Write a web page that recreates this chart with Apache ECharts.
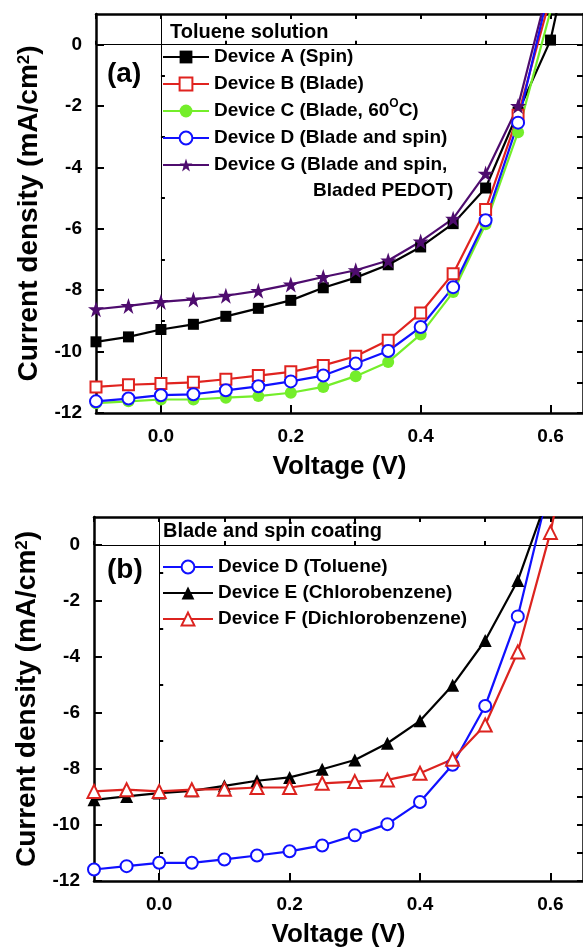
<!DOCTYPE html>
<html>
<head>
<meta charset="utf-8">
<script src="https://cdn.jsdelivr.net/npm/echarts@6/dist/echarts.min.js"></script>
<style>html,body{margin:0;padding:0;background:#fff}#main{width:583px;height:949px}</style>
</head>
<body>
<div id="main"></div>
<script>
// voltage steps shared by all curves
var voltage = [-0.1, -0.05, 0, 0.05, 0.1, 0.15, 0.2, 0.25, 0.3, 0.35, 0.4, 0.45, 0.5, 0.55, 0.6, 0.65];
// panel (a) - toluene solution
var devA = [-9.68, -9.52, -9.28, -9.11, -8.85, -8.59, -8.33, -7.92, -7.59, -7.17, -6.59, -5.83, -4.67, -2.2, 0.15, 5.0];
var devB = [-11.15, -11.08, -11.04, -11.0, -10.9, -10.78, -10.66, -10.45, -10.15, -9.63, -8.74, -7.46, -5.37, -2.3, 1.55, null];
var devC = [-11.68, -11.62, -11.56, -11.56, -11.5, -11.45, -11.34, -11.15, -10.8, -10.34, -9.44, -8.06, -5.85, -2.85, 1.1, null];
var devD = [-11.62, -11.53, -11.42, -11.39, -11.26, -11.13, -10.97, -10.78, -10.39, -9.98, -9.2, -7.9, -5.72, -2.54, 2.0, null];
var devG = [-8.62, -8.51, -8.38, -8.3, -8.18, -8.02, -7.81, -7.57, -7.35, -7.03, -6.41, -5.67, -4.2, -2.0, 2.15, null];
// panel (b) - blade and spin coating
var devD2 = [-11.59, -11.47, -11.35, -11.35, -11.23, -11.09, -10.94, -10.73, -10.37, -9.97, -9.18, -7.85, -5.75, -2.55, 2.25, null];
var devE = [-9.1, -8.98, -8.86, -8.78, -8.6, -8.42, -8.3, -8.01, -7.68, -7.08, -6.28, -5.01, -3.41, -1.27, 2.0, null];
var devF = [-8.8, -8.74, -8.8, -8.74, -8.72, -8.66, -8.66, -8.51, -8.45, -8.39, -8.15, -7.65, -6.43, -3.82, 0.45, 5.9];
// tick values
var xMajor = [0, 0.2, 0.4, 0.6];
var xMinor = [-0.1, 0.1, 0.3, 0.5];
var yMajor = [-12, -10, -8, -6, -4, -2, 0];
var yMinor = [-11, -9, -7, -5, -3, -1];

var font = 'Liberation Sans';
var star = 'path://M12,0 L14.9,8.5 L24,8.5 L16.6,13.8 L19.4,22.5 L12,17.2 L4.6,22.5 L7.4,13.8 L0,8.5 L9.1,8.5 Z';
var legendText = {
	'Device C (Blade, 60OC)': 'Device C (Blade, 60{s|O}C)',
	'Device G': 'Device G (Blade and spin,'
};

function pairs(arr) {
	return voltage.map(function (v, i) { return [v, arr[i]]; });
}

function axLine() {
	return {show: true, onZero: false, lineStyle: {color: '#000', width: 2.5}};
}
function tick(len, vals) {
	return {show: true, inside: true, length: len, customValues: vals, lineStyle: {color: '#000', width: 2}};
}

function xAxesFor(g) {
	return [
		{gridIndex: g, type: 'value', min: -0.1, max: 0.65, position: 'bottom',
		 name: 'Voltage (V)', nameLocation: 'middle', nameGap: 41,
		 nameTextStyle: {fontSize: 26, fontWeight: 'bold', fontFamily: font, color: '#000'},
		 axisLine: axLine(), splitLine: {show: false}, axisTick: tick(8, xMajor),
		 axisLabel: {customValues: xMajor, margin: 14, fontSize: 19, fontWeight: 'bold', fontFamily: font, color: '#000',
			formatter: function (v) { return v.toFixed(1); }}},
		{gridIndex: g, type: 'value', min: -0.1, max: 0.65, position: 'bottom',
		 axisLine: {show: false}, splitLine: {show: false}, axisLabel: {show: false}, axisTick: tick(4, xMinor)},
		{gridIndex: g, type: 'value', min: -0.1, max: 0.65, position: 'top',
		 axisLine: axLine(), splitLine: {show: false}, axisLabel: {show: false}, axisTick: tick(5, xMajor.concat(xMinor))}
	];
}

function yAxesFor(g) {
	return [
		{gridIndex: g, type: 'value', min: -12, max: 1, position: 'left',
		 name: 'Current density (mA/cm{s|2})', nameLocation: 'middle', nameGap: 51,
		 nameTextStyle: {fontSize: 28, fontWeight: 'bold', fontFamily: font, color: '#000',
			rich: {s: {fontSize: 17, fontWeight: 'bold', fontFamily: font, color: '#000', verticalAlign: 'top', lineHeight: 17}}},
		 axisLine: axLine(), splitLine: {show: false}, axisTick: tick(8, yMajor),
		 axisLabel: {customValues: yMajor, margin: 14, fontSize: 19, fontWeight: 'bold', fontFamily: font, color: '#000'}},
		{gridIndex: g, type: 'value', min: -12, max: 1, position: 'left',
		 axisLine: {show: false}, splitLine: {show: false}, axisLabel: {show: false}, axisTick: tick(4, yMinor)},
		{gridIndex: g, type: 'value', min: -12, max: 1, position: 'right',
		 axisLine: axLine(), splitLine: {show: false}, axisLabel: {show: false}, axisTick: tick(6, yMajor.concat(yMinor))}
	];
}

function mk(name, arr, g, color, symbol, size, empty) {
	var s = {
		name: name, type: 'line', xAxisIndex: g * 3, yAxisIndex: g * 3,
		data: pairs(arr), symbol: symbol, symbolSize: size, showAllSymbol: true,
		lineStyle: {color: color, width: 2.2},
		itemStyle: empty ? {color: color, borderWidth: 1.5} : {color: color},
		clip: true, z: 3
	};
	return s;
}

function zeroLines(s) {
	s.markLine = {
		silent: true, symbol: ['none', 'none'], label: {show: false}, z: 1, animation: false,
		lineStyle: {color: '#000', width: 1, type: 'solid'},
		data: [{xAxis: 0}, {yAxis: 0}]
	};
	return s;
}

var seriesA = [
	zeroLines(mk('Device A (Spin)', devA, 0, '#000000', 'rect', 11, false)),
	mk('Device B (Blade)', devB, 0, '#e0231f', 'emptyRect', 11, true),
	mk('Device C (Blade, 60OC)', devC, 0, '#74ee2a', 'circle', 12, false),
	mk('Device D (Blade and spin)', devD, 0, '#1010ff', 'emptyCircle', 12, true),
	mk('Device G', devG, 0, '#4e0c6e', star, 16, false)
];
var seriesB = [
	zeroLines(mk('Device D (Toluene)', devD2, 1, '#1010ff', 'emptyCircle', 12, true)),
	mk('Device E (Chlorobenzene)', devE, 1, '#000000', 'triangle', 13, false),
	mk('Device F (Dichlorobenzene)', devF, 1, '#dc231f', 'emptyTriangle', 13, true)
];

function legendFor(series, top, lh, iw) {
	return {
		data: series.map(function (s) { return s.name; }),
		orient: 'vertical', left: 162, top: top, padding: 0, itemGap: 0,
		itemWidth: iw, itemHeight: 16, selectedMode: false,
		formatter: function (n) { return legendText[n] || n; },
		textStyle: {fontSize: 19, fontWeight: 'bold', fontFamily: font, color: '#000', lineHeight: lh,
			rich: {s: {fontSize: 12, fontWeight: 'bold', fontFamily: font, color: '#000', verticalAlign: 'top', lineHeight: 12}}}
	};
}

function label(x, y, text, size) {
	return {type: 'text', x: x, y: y, z: 10,
		style: {text: text, font: 'bold ' + size + 'px "' + font + '"', fill: '#000', verticalAlign: 'middle'}};
}

var chart = echarts.init(document.getElementById('main'));
chart.setOption({
	animation: false,
	backgroundColor: '#fff',
	grid: [
		{left: 96, top: 14, width: 493, height: 399},
		{left: 94, top: 517, width: 497, height: 365}
	],
	xAxis: xAxesFor(0).concat(xAxesFor(1)),
	yAxis: yAxesFor(0).concat(yAxesFor(1)),
	legend: [legendFor(seriesA, 43.5, 27, 46), legendFor(seriesB, 554, 26, 50)],
	graphic: [
		label(107, 74, '(a)', 28),
		label(170, 32, 'Toluene solution', 20),
		label(313, 191, 'Bladed PEDOT)', 19),
		label(107, 570, '(b)', 28),
		label(163, 531, 'Blade and spin coating', 20)
	],
	series: seriesA.concat(seriesB)
});
</script>
</body>
</html>
